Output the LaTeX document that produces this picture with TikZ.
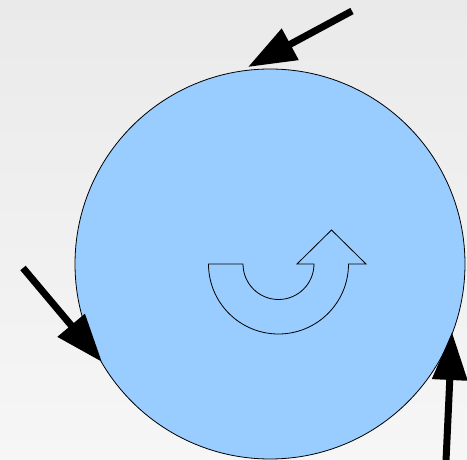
\documentclass[tikz,border=0pt]{standalone}
\usetikzlibrary{arrows.meta}
\definecolor{bgtop}{RGB}{234,234,234}
\definecolor{bgbot}{RGB}{246,246,246}
\definecolor{disc}{RGB}{153,204,255}
\tikzset{
  bigarrow/.style={line width=7pt, -{Triangle[length=48pt,width=34pt]}},
  outline/.style={draw=black, line width=0.8pt}
}
\begin{document}
\begin{tikzpicture}[x=1pt,y=1pt]
\shade[top color=bgtop, bottom color=bgbot] (0,0) rectangle (467,459);
\useasboundingbox (0,0) rectangle (467,459);
\coordinate (c) at (270,195);
\fill[disc] (c) circle[radius=195];
\draw[outline] (c) circle[radius=195];
% U-turn arrow
\coordinate (u) at (278.5,195);
\draw[outline] (208.5,195) -- (243,195) arc[start angle=180, end angle=360, radius=35.5]
  -- (297,195) -- (331.5,229) -- (366,195) -- (348.5,195)
  arc[start angle=0, end angle=-180, radius=70] -- cycle;
% arrows
\coordinate (t1) at (352,448);
\coordinate (h1) at (248,392);
\coordinate (t2) at (23,191);
\coordinate (h2) at (102,97);
\coordinate (t3) at (446,-2);
\coordinate (h3) at (452,127);
\draw[bigarrow] (t1) -- (h1);
\draw[bigarrow] (t2) -- (h2);
\draw[bigarrow] (t3) -- (h3);
\end{tikzpicture}
\end{document}
